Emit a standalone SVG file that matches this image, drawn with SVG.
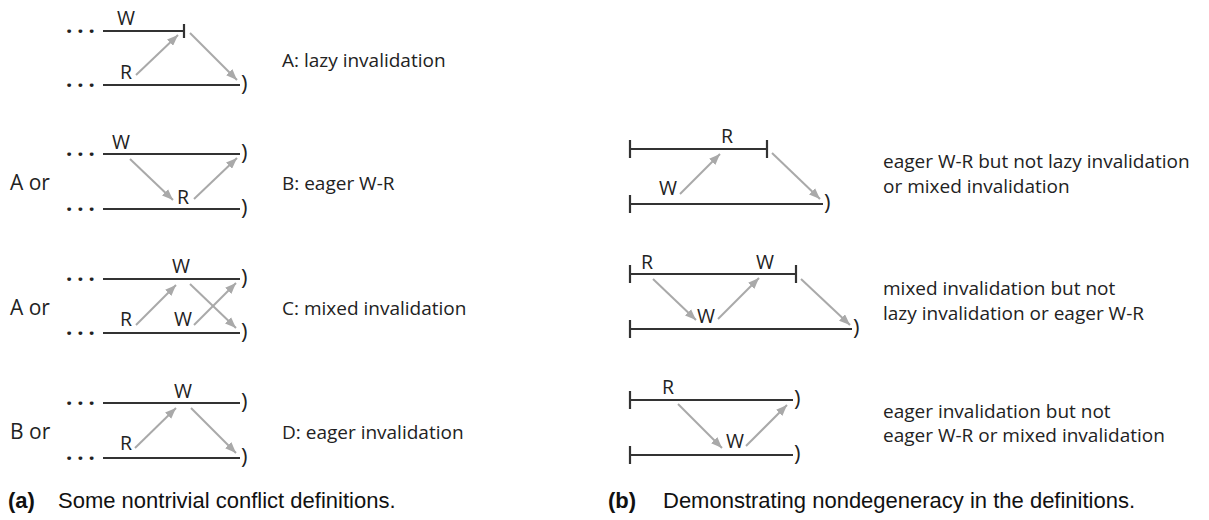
<svg xmlns="http://www.w3.org/2000/svg" width="1209" height="520" viewBox="0 0 1209 520">
<defs>
<style>
.ln{stroke:#333;stroke-width:2.2;fill:none}
.ar{stroke:#a9a9a9;stroke-width:2;fill:none;marker-end:url(#ah)}
.t{font-family:"Open Sans","Liberation Sans",sans-serif;fill:#222}
.lb{font-size:19.5px}
.dsc{font-size:19px}
.or{font-size:21px}
.par{font-size:22px}
.dots{font-size:22px;font-weight:bold;letter-spacing:5px}
.cap{font-family:"Liberation Sans","DejaVu Sans",sans-serif;font-size:22px;fill:#111}
</style>
<marker id="ah" viewBox="0 0 10 8" refX="10" refY="4" markerWidth="11" markerHeight="9" markerUnits="userSpaceOnUse" orient="auto">
<path d="M0,0 L10,4 L0,8 z" fill="#a9a9a9"/>
</marker>
</defs>
<rect width="1209" height="520" fill="#fff"/>

<g id="rowA">
<text class="t dots" x="66" y="33">...</text>
<text class="t dots" x="66" y="87">...</text>
<path class="ln" d="M103,31 H184 M184,24 V38 M103,85 H240"/>
<text class="t par" x="241" y="91">)</text>
<text class="t lb" x="117" y="25">W</text>
<text class="t lb" x="120" y="79">R</text>
<text class="t dsc" x="282" y="67">A: lazy invalidation</text>
</g>

<g id="rowB">
<text class="t or" x="10" y="190">A or</text>
<text class="t dots" x="66" y="156">...</text>
<text class="t dots" x="66" y="211">...</text>
<path class="ln" d="M103,154 H240 M103,209 H240"/>
<text class="t par" x="241" y="160">)</text>
<text class="t par" x="241" y="215">)</text>
<text class="t lb" x="112" y="149">W</text>
<text class="t lb" x="177" y="204">R</text>
<text class="t dsc" x="282" y="190">B: eager W-R</text>
</g>

<g id="rowC">
<text class="t or" x="10" y="315">A or</text>
<text class="t dots" x="66" y="281">...</text>
<text class="t dots" x="66" y="335">...</text>
<path class="ln" d="M103,279 H240 M103,333 H240"/>
<text class="t par" x="241" y="285">)</text>
<text class="t par" x="241" y="339">)</text>
<text class="t lb" x="172" y="273">W</text>
<text class="t lb" x="120" y="326">R</text>
<text class="t lb" x="174" y="326">W</text>
<text class="t dsc" x="282" y="315">C: mixed invalidation</text>
</g>

<g id="rowD">
<text class="t or" x="10" y="439">B or</text>
<text class="t dots" x="66" y="405">...</text>
<text class="t dots" x="66" y="460">...</text>
<path class="ln" d="M103,403 H240 M103,458 H240"/>
<text class="t par" x="241" y="409">)</text>
<text class="t par" x="241" y="464">)</text>
<text class="t lb" x="174" y="398">W</text>
<text class="t lb" x="120" y="450">R</text>
<text class="t dsc" x="282" y="439">D: eager invalidation</text>
</g>

<g id="row1">
<path class="ln" d="M630,149 H767 M630,140 V158 M767,140 V158 M630,204 H823 M630,195 V213"/>
<text class="t par" x="824" y="210">)</text>
<text class="t lb" x="721" y="143">R</text>
<text class="t lb" x="659" y="195">W</text>
<text class="t dsc" x="883" y="168">eager W-R but not lazy invalidation</text>
<text class="t dsc" x="883" y="193">or mixed invalidation</text>
</g>

<g id="row2">
<path class="ln" d="M630,274 H796 M630,265 V283 M796,265 V283 M630,329 H852 M630,320 V338"/>
<text class="t par" x="853" y="335">)</text>
<text class="t lb" x="641" y="269">R</text>
<text class="t lb" x="756" y="269">W</text>
<text class="t lb" x="697" y="323">W</text>
<text class="t dsc" x="883" y="295">mixed invalidation but not</text>
<text class="t dsc" x="883" y="320">lazy invalidation or eager W-R</text>
</g>

<g id="row3">
<path class="ln" d="M630,400 H793 M630,391 V409 M630,455 H793 M630,446 V464"/>
<text class="t par" x="794" y="406">)</text>
<text class="t par" x="794" y="461">)</text>
<text class="t lb" x="662" y="394">R</text>
<text class="t lb" x="726" y="448">W</text>
<text class="t dsc" x="883" y="418">eager invalidation but not</text>
<text class="t dsc" x="883" y="442">eager W-R or mixed invalidation</text>
</g>

<g id="connectors">
<line class="ar" x1="136" y1="75" x2="178" y2="35"/>
<line class="ar" x1="190" y1="33" x2="237" y2="80"/>
<line class="ar" x1="130" y1="159" x2="173" y2="200"/>
<line class="ar" x1="194" y1="199" x2="237" y2="158"/>
<line class="ar" x1="136" y1="325" x2="176" y2="285"/>
<line class="ar" x1="190" y1="284" x2="236" y2="328"/>
<line class="ar" x1="194" y1="325" x2="236" y2="283"/>
<line class="ar" x1="135" y1="448" x2="176" y2="408"/>
<line class="ar" x1="191" y1="408" x2="236" y2="453"/>
<line class="ar" x1="680" y1="194" x2="720" y2="154"/>
<line class="ar" x1="772" y1="153" x2="820" y2="199"/>
<line class="ar" x1="653" y1="279" x2="696" y2="320"/>
<line class="ar" x1="718" y1="319" x2="759" y2="278"/>
<line class="ar" x1="801" y1="279" x2="850" y2="325"/>
<line class="ar" x1="678" y1="404" x2="722" y2="448"/>
<line class="ar" x1="746" y1="446" x2="787" y2="405"/>
</g>

<g id="captions">
<text class="cap" x="8" y="508"><tspan font-weight="bold">(a)</tspan><tspan x="58">Some nontrivial conflict definitions.</tspan></text>
<text class="cap" x="608" y="508"><tspan font-weight="bold">(b)</tspan><tspan x="663">Demonstrating nondegeneracy in the definitions.</tspan></text>
</g>
</svg>
